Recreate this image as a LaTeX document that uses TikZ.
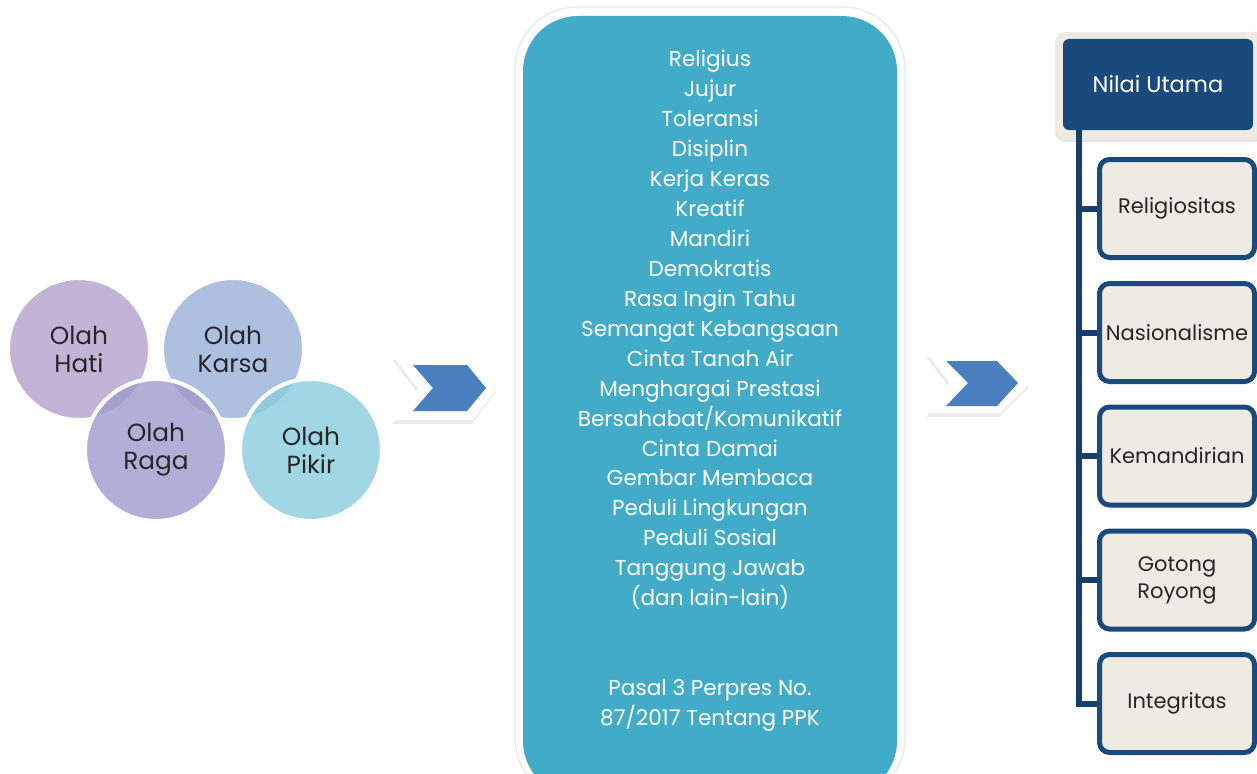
\documentclass[tikz,border=0pt]{standalone}
\usepackage{fontspec}
\setmainfont{Poppins}
\usetikzlibrary{shadows}
\definecolor{tealbox}{HTML}{42ABC8}
\definecolor{chev}{HTML}{4A7FBF}
\definecolor{navy}{HTML}{1A4A7C}
\definecolor{trunkc}{HTML}{173E68}
\definecolor{beige}{HTML}{EEEBE3}
\definecolor{txt}{HTML}{262626}
\definecolor{hati}{RGB}{182,164,205}
\definecolor{karsa}{RGB}{155,178,216}
\definecolor{raga}{RGB}{160,156,206}
\definecolor{pikir}{RGB}{140,205,222}
\begin{document}
\begin{tikzpicture}[x=1pt,y=-1pt,
  circ/.style={circle, minimum size=142pt, inner sep=0pt, fill opacity=0.82, text opacity=1,
    draw=white, draw opacity=1, line width=4pt, align=center, text=txt,
    font=\fontsize{24.8}{28}\selectfont},
  childbox/.style={rectangle, rounded corners=10pt, draw=navy, line width=5pt, fill=beige,
    minimum width=155pt, minimum height=98pt, inner sep=0pt, align=center, text=txt,
    font=\fontsize{21}{27}\selectfont},
  trunk/.style={draw=trunkc, line width=6pt},
  chevshadow/.style={drop shadow={opacity=0.15, shadow xshift=-1pt, shadow yshift=-4pt}}
]
\useasboundingbox (0,0) rectangle (1257,773);

% circles
\node[circ, fill=hati] (hati) at (79,349) {Olah\\Hati};
\node[circ, fill=karsa] (karsa) at (233,349) {Olah\\Karsa};
\node[circ, fill=raga] (raga) at (156,450) {Olah\\Raga};
\node[circ, fill=pikir] (pikir) at (311,450) {Olah\\Pikir};

% chevron 1
\fill[white, chevshadow] (393,356) -- (473,356) -- (497,388) -- (473,420) -- (393,420) -- (418,388) -- cycle;
\fill[chev] (413,365) -- (467,365) -- (486,388) -- (467,411) -- (413,411) -- (433,388) -- cycle;

% chevron 2
\fill[white, chevshadow] (927,353) -- (1000,353) -- (1030,383) -- (1000,413) -- (927,413) -- (950,383) -- cycle;
\fill[chev] (946,361) -- (997,361) -- (1018,383) -- (997,406) -- (946,406) -- (968,383) -- cycle;

% middle box
\draw[draw=black!8, line width=1.5pt, fill=white, rounded corners=62pt] (515,7) rectangle (905,800);
\node[rectangle, fill=tealbox, rounded corners=55pt, minimum width=374pt, minimum height=780pt, inner sep=0pt] (valbox) at (710,406) {};
\node[text=white, align=center, font=\fontsize{21.6}{29.95}\selectfont] (list) at (710,330) {Religius\\Jujur\\Toleransi\\Disiplin\\Kerja Keras\\Kreatif\\Mandiri\\Demokratis\\Rasa Ingin Tahu\\Semangat Kebangsaan\\Cinta Tanah Air\\Menghargai Prestasi\\Bersahabat/Komunikatif\\Cinta Damai\\Gembar Membaca\\Peduli Lingkungan\\Peduli Sosial\\Tanggung Jawab\\(dan lain-lain)};
\node[text=white, align=center, font=\fontsize{21.6}{29.95}\selectfont] (pasal) at (710,705) {Pasal 3 Perpres No.\\87/2017 Tentang PPK};

% right side
\node[rectangle, rounded corners=10pt, fill=beige, minimum width=210pt, minimum height=106pt, inner sep=0pt,
  drop shadow={opacity=0.2, shadow xshift=0pt, shadow yshift=-4pt}] (nilaiframe) at (1160,85) {};
\node[rectangle, rounded corners=6pt, fill=navy, minimum width=190pt, minimum height=91pt, inner sep=0pt,
  text=white, font=\fontsize{22.5}{27}\selectfont] (nilai) at (1158,84.5) {Nilai Utama};

\coordinate (trunkx) at (1079,0);
\node[childbox] (rel) at (1177,208.5) {Religiositas};
\node[childbox] (nas) at (1177,332.5) {Nasionalisme};
\node[childbox] (kem) at (1177,456) {Kemandirian};
\node[childbox] (got) at (1177,580) {Gotong\\Royong};
\node[childbox] (int) at (1177,703.5) {Integritas};

\draw[trunk] (nilai.south -| trunkx) |- (int.west);
\foreach \c in {rel,nas,kem,got}
  \draw[trunk] (nilai.south -| trunkx) |- (\c.west);
\end{tikzpicture}
\end{document}
